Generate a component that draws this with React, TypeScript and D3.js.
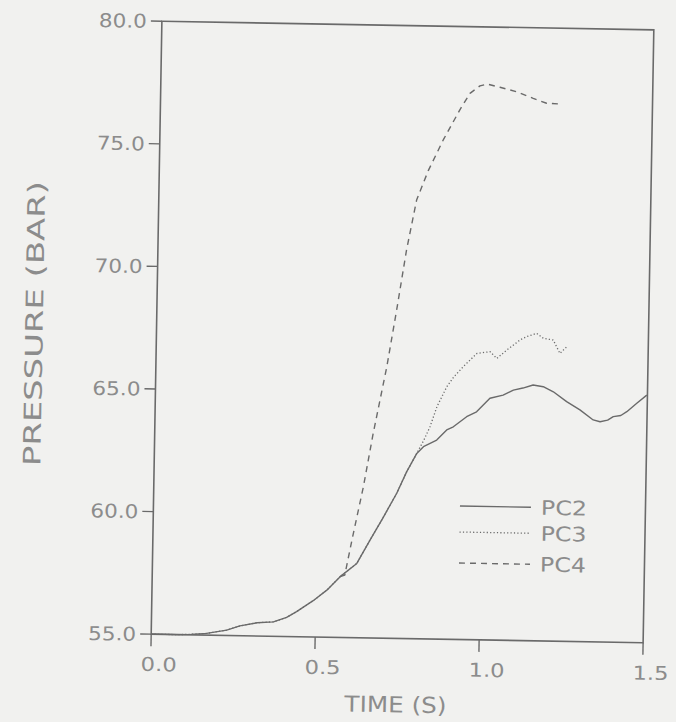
import React from "react";
import * as d3 from "d3";

// ---- data (time s, pressure bar) ----
const pc2Time = [0, 0.08, 0.12, 0.169, 0.23, 0.27, 0.322, 0.372, 0.412, 0.442, 0.492, 0.533, 0.573, 0.623, 0.662, 0.7, 0.741, 0.77, 0.8, 0.82, 0.86, 0.89, 0.91, 0.95, 0.98, 1.02, 1.06, 1.091, 1.12, 1.151, 1.182, 1.213, 1.254, 1.295, 1.336, 1.357, 1.38, 1.397, 1.42, 1.438, 1.468, 1.498];
const pc2Values = [55.0, 55.0, 55.02, 55.07, 55.22, 55.4, 55.54, 55.59, 55.78, 56.02, 56.48, 56.92, 57.48, 58.03, 58.99, 59.9, 60.92, 61.8, 62.56, 62.84, 63.12, 63.54, 63.67, 64.09, 64.3, 64.86, 65.0, 65.21, 65.3, 65.43, 65.37, 65.17, 64.78, 64.45, 64.05, 63.98, 64.05, 64.2, 64.25, 64.41, 64.76, 65.1];

const pc3Time = [0, 0.08, 0.12, 0.169, 0.23, 0.27, 0.322, 0.372, 0.412, 0.442, 0.492, 0.533, 0.573, 0.623, 0.662, 0.7, 0.741, 0.77, 0.8, 0.821, 0.839, 0.859, 0.888, 0.909, 0.937, 0.978, 1.018, 1.039, 1.069, 1.109, 1.129, 1.159, 1.18, 1.21, 1.231, 1.252];
const pc3Values = [55.0, 55.0, 55.02, 55.07, 55.22, 55.4, 55.54, 55.59, 55.78, 56.02, 56.48, 56.92, 57.48, 58.03, 58.99, 59.9, 60.92, 61.8, 62.56, 63.11, 63.66, 64.48, 65.3, 65.71, 66.13, 66.68, 66.76, 66.49, 66.84, 67.26, 67.4, 67.54, 67.34, 67.28, 66.74, 67.02];

const pc4Time = [0.573, 0.587, 0.609, 0.639, 0.666, 0.704, 0.731, 0.758, 0.786, 0.82, 0.864, 0.913, 0.943, 0.973, 0.995, 1.034, 1.085, 1.136, 1.177, 1.218];
const pc4Values = [57.48, 57.55, 59.12, 61.16, 63.34, 66.07, 68.39, 70.85, 72.89, 74.1, 75.36, 76.6, 77.28, 77.59, 77.67, 77.55, 77.38, 77.12, 76.93, 76.91];

const xTicks = [0, 0.5, 1.0, 1.5];
const xTickLabels = ["0.0", "0.5", "1.0", "1.5"];
const yTicks = [55, 60, 65, 70, 75, 80];
const yTickLabels = ["55.0", "60.0", "65.0", "70.0", "75.0", "80.0"];
const seriesNames = ["PC2", "PC3", "PC4"];

const W = 676;
const H = 722;
const left = 156.5;
const right = 648.5;
const top = 25.5;
const bottom = 638.5;

const ink = "#6a6a6a";
const textCol = "#8c8c8c";
const font = "'DejaVu Sans', sans-serif";

export default function App() {
  const x = d3.scaleLinear().domain([0, 1.5]).range([left, right]);
  const y = d3.scaleLinear().domain([55, 80]).range([bottom, top]);
  const line = d3
    .line<[number, number]>()
    .x((d) => x(d[0]))
    .y((d) => y(d[1]));

  const zip = (t: number[], v: number[]) => t.map((tt, i) => [tt, v[i]] as [number, number]);
  const series = [
    { name: seriesNames[0], d: line(zip(pc2Time, pc2Values)), dash: "none", w: 1.4 },
    { name: seriesNames[1], d: line(zip(pc3Time, pc3Values)), dash: "1.2,2.2", w: 1.3 },
    { name: seriesNames[2], d: line(zip(pc4Time, pc4Values)), dash: "6,5", w: 1.4 },
  ];

  const legX1 = 463;
  const legX2 = 534;
  const legY = [505, 531, 562];

  return (
    <svg width={W} height={H} style={{ display: "block", position: "absolute", left: 0, top: 0 }}>
      <rect x={0} y={0} width={W} height={H} fill="#f1f1ef" />
      <g transform="rotate(1, 402.5, 332)">
        {/* frame */}
        <rect x={left} y={top} width={right - left} height={bottom - top} fill="none" stroke={ink} strokeWidth={1.6} />
        {/* y ticks */}
        {yTicks.map((t, i) => (
          <g key={"y" + t}>
            <line x1={left - 11} x2={left} y1={y(t)} y2={y(t)} stroke={ink} strokeWidth={1.4} />
            <text x={left - 15} y={y(t)} dy="0.36em" textAnchor="end" fontFamily={font} fontSize={19} fill={textCol} textLength={48} lengthAdjust="spacingAndGlyphs">
              {yTickLabels[i]}
            </text>
          </g>
        ))}
        {/* x ticks */}
        {xTicks.map((t, i) => (
          <g key={"x" + t}>
            <line x1={x(t)} x2={x(t)} y1={bottom} y2={bottom + 12} stroke={ink} strokeWidth={1.4} />
            <text x={x(t) + 8} y={bottom + 30} dy="0.36em" textAnchor="middle" fontFamily={font} fontSize={19} fill={textCol} textLength={36} lengthAdjust="spacingAndGlyphs">
              {xTickLabels[i]}
            </text>
          </g>
        ))}
        {/* axis titles */}
        <text x={402} y={bottom + 66} dy="0.36em" textAnchor="middle" fontFamily={font} fontSize={22} fill={textCol} textLength={102} lengthAdjust="spacingAndGlyphs">
          TIME (S)
        </text>
        <text transform={`translate(34, 330) rotate(-90)`} dy="0.36em" textAnchor="middle" fontFamily={font} fontSize={24} fill={textCol} textLength={285} lengthAdjust="spacingAndGlyphs">
          PRESSURE (BAR)
        </text>
        {/* curves */}
        {series.map((s) => (
          <path key={s.name} d={s.d || ""} fill="none" stroke={ink} strokeWidth={s.w} strokeDasharray={s.dash} strokeLinejoin="round" />
        ))}
        {/* legend */}
        {series.map((s, i) => (
          <g key={"leg" + s.name}>
            <line x1={legX1} x2={legX2} y1={legY[i]} y2={legY[i]} stroke={ink} strokeWidth={s.w} strokeDasharray={s.dash} />
            <text x={legX2 + 10} y={legY[i]} dy="0.36em" fontFamily={font} fontSize={20} fill={textCol} textLength={46} lengthAdjust="spacingAndGlyphs">
              {s.name}
            </text>
          </g>
        ))}
      </g>
    </svg>
  );
}
